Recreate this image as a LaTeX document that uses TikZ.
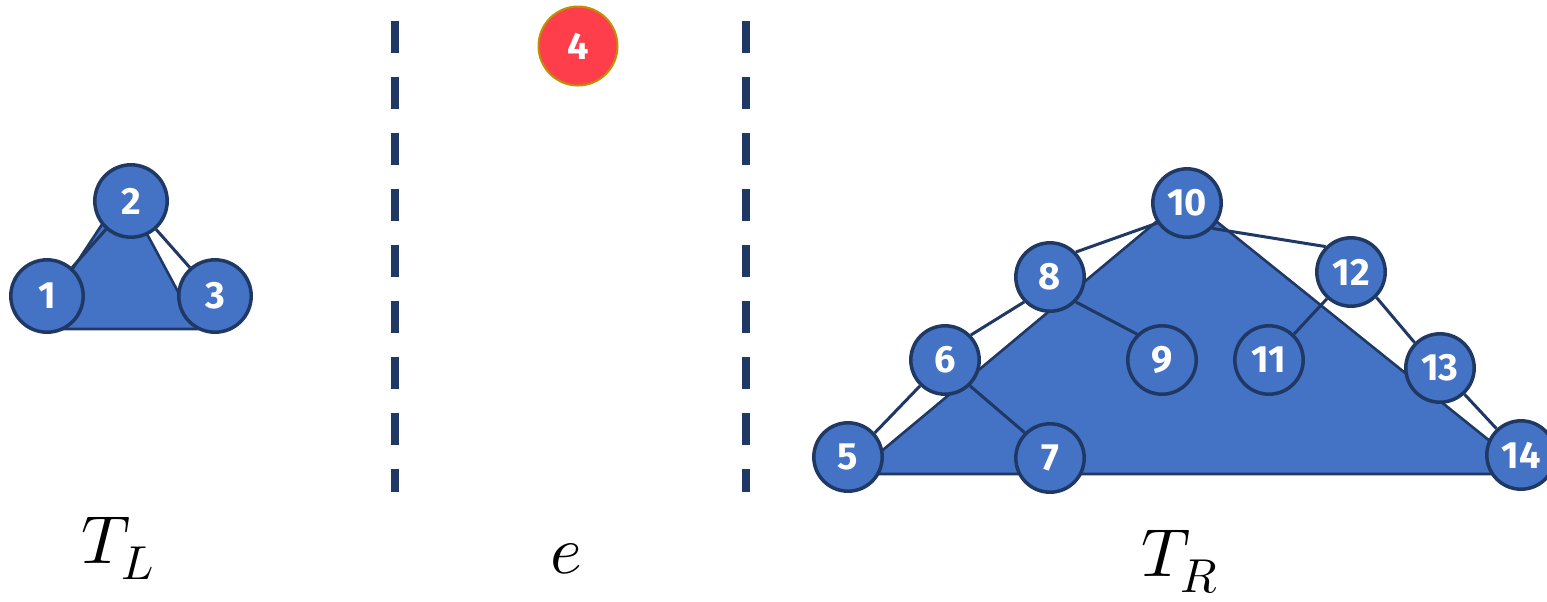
\documentclass[tikz,border=0pt]{standalone}
\usepackage{unicode-math}
\newfontfamily\numfont{Fira Sans}
\definecolor{tblue}{HTML}{4472C4}
\definecolor{tdark}{HTML}{1F3864}
\definecolor{ered}{HTML}{FF3E4C}
\definecolor{egold}{HTML}{BF9000}
\pgfdeclarelayer{trilayer}
\pgfdeclarelayer{edgelayer}
\pgfsetlayers{trilayer,edgelayer,main}
\begin{document}
\begin{tikzpicture}[x=0.5pt,y=-0.5pt,
  tri/.style={fill=tblue, draw=tdark, line width=1.3pt, line join=round},
  edge/.style={draw=tdark, line width=1.5pt},
  lnode/.style={circle, fill=tblue, draw=tdark, line width=1.75pt, minimum size=36.2pt,
    inner sep=0pt, text=white, font=\numfont\bfseries\fontsize{19}{19}\selectfont},
  rnode/.style={lnode, minimum size=34.2pt},
  enode/.style={circle, fill=ered, draw=egold, line width=1pt, minimum size=39.5pt,
    inner sep=0pt, text=white, font=\numfont\bfseries\fontsize{19}{19}\selectfont},
  sep/.style={draw=tdark, line width=4pt, dash pattern=on 16pt off 12pt},
  lbl/.style={anchor=base, font=\fontsize{34}{40}\selectfont}
]
\clip (0,0) rectangle (1547,601);

% separators
\coordinate (s1t) at (395,21);  \coordinate (s1b) at (395,492);
\coordinate (s2t) at (746,21);  \coordinate (s2b) at (746,492);
\draw[sep] (s1t) -- (s1b);
\draw[sep] (s2t) -- (s2b);

% subtree triangles
\coordinate (la) at (124,191); \coordinate (lb) at (33,329); \coordinate (lc) at (198,329);
\coordinate (ra) at (1186,197); \coordinate (rb) at (854,474); \coordinate (rc) at (1531,474);
\begin{pgfonlayer}{trilayer}
\draw[tri] (la) -- (lb) -- (lc) -- cycle;
\draw[tri] (ra) -- (rb) -- (rc) -- cycle;
\end{pgfonlayer}

% left tree
\node[lnode] (n1) at (47,296) {1};
\node[lnode] (n2) at (131,201) {2};
\node[lnode] (n3) at (215,296) {3};

% separating element
\node[enode] (n4) at (578,46) {4};

% right tree
\node[rnode] (n10) at (1187,203) {10};
\node[rnode] (n8)  at (1050,277) {8};
\node[rnode] (n12) at (1351,272) {12};
\node[rnode] (n6)  at (945,360) {6};
\node[rnode] (n9)  at (1162,360) {9};
\node[rnode] (n11) at (1269,360) {11};
\node[rnode] (n13) at (1440,368) {13};
\node[rnode] (n5)  at (848,457) {5};
\node[rnode] (n7)  at (1050,458) {7};
\node[rnode] (n14) at (1521,455) {14};

\begin{pgfonlayer}{edgelayer}
\draw[edge] (n1) -- (n2);
\draw[edge] (n2) -- (n3);
\draw[edge] (n8.44) -- (n10.214);
\draw[edge] (n10.-45) -- (n12.135);
\draw[edge] (n8.224) -- (n6.44);
\draw[edge] (n8.-44) -- (n9.134);
\draw[edge] (n6.226) -- (n5.42);
\draw[edge] (n6.-46) -- (n7.135);
\draw[edge] (n12.228) -- (n11.46);
\draw[edge] (n12.-45) -- (n13.135);
\draw[edge] (n13) -- (n14);
\end{pgfonlayer}

% labels
\node[lbl] (tl) at (118,563) {$T_L$};
\node[lbl] (te) at (566,573) {$e$};
\node[lbl] (tr) at (1180,576) {$T_R$};
\end{tikzpicture}
\end{document}
